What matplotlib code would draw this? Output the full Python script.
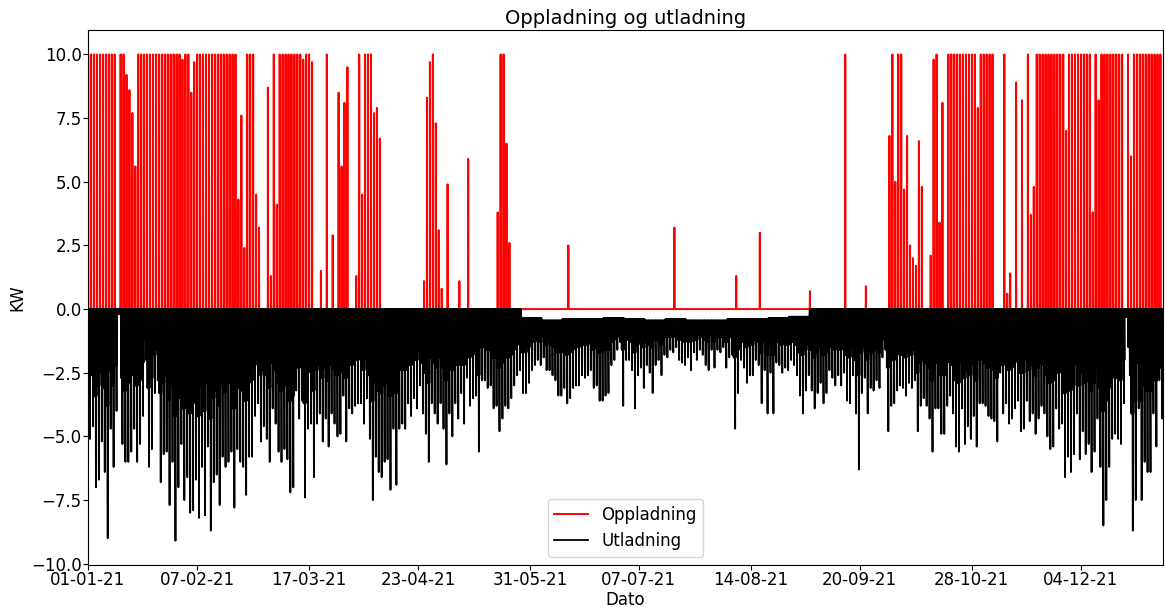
import numpy as np
import matplotlib
matplotlib.use("Agg")
import matplotlib.pyplot as plt
import matplotlib.dates as mdates

# ------------------------- #
# Data: batteri 2021, én verdi per dag
# ------------------------- #
# Største lading per dag (kW), én rad per måned
lading = (
    [10, 10, 10, 10, 10, 10, 10, 10, 10, 10, 0, 10, 10, 9.2, 8.6, 7.7, 5.6, 10, 10, 10,
     10, 10, 10, 10, 10, 10, 10, 10, 10, 10, 10]                                         # jan
    + [10, 9.8, 10, 10, 8.5, 9.7, 10, 10, 10, 10, 10, 10, 10, 10, 10, 10, 10, 10, 10, 10,
       4.3, 7.6, 2.4, 10, 10, 10, 4.5, 3.2]                                              # feb
    + [0, 0, 8.7, 1.3, 10, 4.1, 10, 10, 10, 10, 10, 10, 10, 10, 9.8, 10, 10, 9.7, 0, 0,
       1.5, 0, 10, 0, 2.9, 0, 8.5, 5.6, 8.1, 9.5, 0]                                     # mar
    + [0, 1.3, 10, 4.5, 10, 10, 10, 7.7, 7.9, 6.7, 0, 0, 0, 0, 0, 0, 0, 0, 0, 0,
       0, 0, 0, 0, 1.1, 8.3, 9.7, 10, 7.3, 3.1]                                          # apr
    + [0.8, 0, 4.9, 0, 0, 0, 1.1, 0, 0, 5.9, 0, 0, 0, 0, 0, 0, 0, 0, 0, 3.8,
       10, 10, 6.5, 2.6, 0, 0, 0, 0, 0, 0, 0]                                            # mai
    + [0, 0, 0, 0, 0, 0, 0, 0, 0, 0, 0, 0, 2.5, 0, 0, 0, 0, 0, 0, 0,
       0, 0, 0, 0, 0, 0, 0, 0, 0, 0]                                                     # jun
    + [0, 0, 0, 0, 0, 0, 0, 0, 0, 0, 0, 0, 0, 0, 0, 0, 0, 0, 3.2, 0,
       0, 0, 0, 0, 0, 0, 0, 0, 0, 0, 0]                                                  # jul
    + [0, 0, 0, 0, 0, 0, 0, 0, 1.3, 0, 0, 0, 0, 0, 0, 0, 3.0, 0, 0, 0,
       0, 0, 0, 0, 0, 0, 0, 0, 0, 0, 0]                                                  # aug
    + [0, 0, 0.7, 0, 0, 0, 0, 0, 0, 0, 0, 0, 0, 0, 10, 0, 0, 0, 0, 0,
       0, 0.9, 0, 0, 0, 0, 0, 0, 0, 6.8]                                                 # sep
    + [10, 5.0, 10, 10, 4.7, 6.8, 2.5, 2.0, 1.7, 6.6, 4.8, 0, 0, 2.1, 9.8, 10, 3.4, 8.1, 0, 10,
       10, 10, 10, 10, 10, 10, 10, 10, 10, 7.9, 10]                                      # okt
    + [10, 10, 10, 10, 0, 0, 0, 10, 0.6, 1.4, 0, 8.9, 0, 8.2, 0, 10, 3.7, 4.8, 10, 10,
       10, 10, 10, 10, 10, 10, 10, 10, 7.0, 10]                                          # nov
    + [10, 10, 10, 10, 10, 10, 10, 3.8, 10, 8.2, 10, 10, 10, 10, 10, 10, 10, 10, 0, 10,
       6.0, 10, 10, 10, 10, 10, 10, 10, 10, 10, 10]                                      # des
)

# Største utlading per dag (kW, negativ)
utlading_min = (
    [-5.1, -4.6, -7.0, -6.7, -5.2, -6.4, -9.0, -4.7, -6.2, -4.0, -0.2, -5.3, -6.0, -6.0, -5.6,
     -4.7, -6.0, -5.3, -4.2, -2.0, -6.2, -5.5, -3.3, -2.8, -6.8, -5.7, -5.6, -7.7, -6.0, -9.1,
     -7.0]                                                                                # jan
    + [-5.3, -7.5, -6.6, -8.0, -7.9, -6.7, -8.2, -6.2, -8.1, -5.4, -8.7, -6.8, -6.5, -7.7,
       -5.8, -6.2, -6.0, -5.6, -7.8, -5.5, -6.0, -6.2, -7.3, -5.8, -5.8, -4.2, -3.7, -5.2]  # feb
    + [-4.6, -5.1, -6.0, -3.9, -4.5, -5.6, -6.0, -5.5, -5.9, -7.2, -7.0, -3.2, -4.3, -3.6,
       -7.4, -4.7, -4.5, -6.6, -4.5, -4.1, -5.2, -4.3, -5.4, -4.1, -4.5, -5.0, -4.9, -3.4,
       -5.2, -3.9, -4.1]                                                                  # mar
    + [-3.8, -3.7, -3.7, -4.5, -3.5, -5.1, -7.5, -5.8, -6.4, -6.6, -6.0, -5.9, -7.1, -4.7,
       -6.9, -4.7, -4.5, -4.7, -3.7, -4.2, -3.5, -3.9, -3.0, -4.1, -4.9, -6.0, -3.7, -4.1,
       -4.5, -3.7]                                                                        # apr
    + [-4.7, -6.1, -4.1, -5.0, -3.7, -4.3, -3.3, -4.5, -2.7, -3.8, -3.5, -3.4, -5.6, -2.8,
       -2.8, -3.1, -3.0, -3.9, -3.8, -4.8, -4.3, -3.8, -3.9, -3.5, -3.0, -2.6, -2.4, -3.3,
       -3.3, -2.9, -2.4]                                                                  # mai
    + [-2.2, -2.0, -2.2, -1.9, -2.4, -2.4, -2.6, -2.8, -3.4, -3.4, -3.1, -3.7, -3.5, -3.1,
       -3.0, -3.0, -2.6, -2.7, -2.6, -2.4, -3.1, -3.0, -3.6, -3.6, -3.4, -3.3, -2.2, -2.0,
       -1.6, -1.3]                                                                        # jun
    + [-3.8, -2.0, -2.0, -2.4, -3.9, -2.6, -2.3, -3.1, -2.2, -2.5, -3.3, -2.2, -2.0, -2.6,
       -1.8, -1.9, -1.6, -1.7, -1.5, -2.0, -2.1, -2.2, -1.9, -2.4, -1.7, -2.0, -1.6, -1.8,
       -2.2, -2.4, -1.6]                                                                  # jul
    + [-2.3, -1.6, -1.7, -1.5, -2.3, -1.9, -1.8, -4.7, -3.3, -2.0, -2.3, -2.9, -2.6, -2.6,
       -2.0, -2.2, -3.7, -2.4, -4.1, -2.5, -4.1, -2.1, -2.2, -2.5, -2.3, -2.4, -2.0, -2.2,
       -2.6, -3.4, -4.1]                                                                  # aug
    + [-3.2, -2.6, -3.2, -3.9, -3.3, -2.9, -3.7, -3.3, -2.4, -2.7, -3.0, -2.6, -3.0, -2.5,
       -3.6, -3.7, -2.6, -4.1, -6.3, -3.3, -2.7, -4.1, -3.1, -3.2, -2.8, -3.1, -1.9, -1.6,
       -4.8, -3.8]                                                                        # sep
    + [-3.7, -3.2, -3.0, -3.1, -3.4, -2.9, -3.1, -2.8, -4.8, -3.8, -3.5, -3.8, -4.3, -5.6,
       -3.9, -3.9, -4.9, -4.9, -3.8, -3.4, -4.1, -5.4, -5.6, -3.9, -5.3, -4.6, -5.1, -4.2,
       -5.4, -3.7, -3.7]                                                                  # okt
    + [-3.8, -4.2, -4.3, -4.4, -5.2, -2.5, -4.1, -3.7, -4.5, -4.3, -3.9, -3.6, -4.8, -4.7,
       -3.6, -4.4, -4.1, -4.9, -4.3, -3.8, -4.1, -5.0, -5.5, -5.4, -3.9, -4.7, -4.5, -6.6,
       -5.8, -6.4]                                                                        # nov
    + [-5.7, -4.1, -5.9, -4.8, -5.7, -5.3, -6.4, -5.6, -4.3, -6.2, -8.5, -7.5, -6.2, -5.1,
       -4.9, -5.1, -5.3, -3.7, -0.3, -2.6, -8.7, -7.5, -3.9, -7.5, -6.0, -6.4, -6.4, -4.1,
       -5.4, -2.8, -4.3]                                                                  # des
)

# Vanlig utlading resten av døgnet (kW, negativ)
utlading_dag = (
    [-2.2, -2.6, -3.4, -3.0, -2.5, -3.1, -3.8, -2.4, -3.0, -2.2, -0.2, -2.7, -3.2, -2.9, -2.6,
     -2.3, -3.0, -2.8, -2.1, -1.2, -3.1, -2.7, -1.8, -1.6, -3.3, -2.9, -2.6, -3.6, -3.0, -4.2,
     -3.5]                                                                                # jan
    + [-2.8, -3.9, -3.4, -4.1, -3.7, -3.3, -4.2, -3.1, -4.0, -2.9, -4.3, -3.5, -3.2, -3.8,
       -3.0, -3.3, -2.9, -2.8, -3.9, -2.7, -3.1, -3.2, -3.6, -2.9, -2.8, -2.2, -2.0, -2.6]  # feb
    + [-2.4, -2.6, -3.1, -2.1, -2.4, -2.9, -3.2, -2.8, -3.0, -3.6, -3.4, -1.8, -2.3, -2.0,
       -3.7, -2.5, -2.4, -3.2, -2.4, -2.2, -2.7, -2.3, -2.8, -2.2, -2.4, -2.6, -2.5, -1.9,
       -2.7, -2.1, -2.2]                                                                  # mar
    + [-2.0, -2.0, -1.9, -2.4, -1.9, -2.6, -3.6, -2.9, -3.2, -3.3, -3.0, -2.9, -3.4, -2.5,
       -3.3, -2.4, -2.3, -2.4, -1.9, -2.2, -1.8, -2.0, -1.6, -2.1, -2.5, -2.9, -1.9, -2.1,
       -2.3, -1.9]                                                                        # apr
    + [-2.3, -2.8, -2.1, -2.4, -1.9, -2.2, -1.7, -2.2, -1.5, -1.9, -1.8, -1.7, -2.6, -1.5,
       -1.5, -1.6, -1.6, -1.9, -1.9, -2.3, -2.1, -1.9, -1.9, -1.8, -1.6, -1.4, -1.3, -1.7,
       -1.7, -1.5, -1.3]                                                                  # mai
    + [-1.3, -1.2, -1.3, -1.1, -1.4, -1.3, -1.4, -1.5, -1.7, -1.7, -1.6, -1.8, -1.7, -1.6,
       -1.5, -1.5, -1.4, -1.4, -1.4, -1.3, -1.6, -1.5, -1.7, -1.7, -1.6, -1.6, -1.3, -1.2,
       -1.1, -1.0]                                                                        # jun
    + [-1.6, -1.2, -1.2, -1.3, -1.7, -1.4, -1.3, -1.5, -1.3, -1.4, -1.5, -1.2, -1.2, -1.4,
       -1.1, -1.1, -1.0, -1.1, -1.0, -1.2, -1.2, -1.3, -1.1, -1.3, -1.1, -1.2, -1.0, -1.1,
       -1.2, -1.3, -1.0]                                                                  # jul
    + [-1.3, -1.0, -1.1, -1.0, -1.3, -1.1, -1.1, -1.9, -1.6, -1.2, -1.3, -1.5, -1.4, -1.4,
       -1.2, -1.3, -1.7, -1.3, -1.8, -1.4, -1.8, -1.2, -1.3, -1.4, -1.3, -1.4, -1.2, -1.3,
       -1.4, -1.7, -1.8]                                                                  # aug
    + [-1.6, -1.4, -1.6, -1.9, -1.7, -1.5, -1.8, -1.7, -1.4, -1.5, -1.6, -1.4, -1.6, -1.4,
       -1.8, -1.9, -1.5, -2.0, -2.6, -1.7, -1.5, -2.0, -1.7, -1.7, -1.6, -1.7, -1.2, -1.1,
       -2.3, -2.0]                                                                        # sep
    + [-2.0, -1.8, -1.7, -1.8, -1.9, -1.7, -1.8, -1.6, -2.5, -2.1, -2.0, -2.1, -2.3, -2.8,
       -2.1, -2.1, -2.6, -2.6, -2.1, -1.9, -2.2, -2.8, -2.9, -2.1, -2.7, -2.4, -2.6, -2.2,
       -2.8, -2.0, -2.0]                                                                  # okt
    + [-2.1, -2.3, -2.3, -2.4, -2.7, -1.5, -2.2, -2.0, -2.4, -2.3, -2.1, -2.0, -2.5, -2.5,
       -2.0, -2.4, -2.2, -2.6, -2.3, -2.1, -2.2, -2.6, -2.9, -2.8, -2.1, -2.5, -2.4, -3.3,
       -3.0, -3.2]                                                                        # nov
    + [-3.0, -2.2, -3.0, -2.5, -2.9, -2.8, -3.2, -2.9, -2.3, -3.1, -4.0, -3.6, -3.1, -2.7,
       -2.6, -2.7, -2.8, -2.0, -0.3, -1.5, -4.1, -3.6, -2.1, -3.6, -3.0, -3.2, -3.2, -2.2,
       -2.8, -1.6, -2.3]                                                                  # des
)

# Ukentlig grunnivå for utlading (kW) - 0 når batteriet står stille om natten
utlading_grunn = [
    0, 0, 0, 0, 0, 0, 0, 0, 0, 0, 0, 0, 0, 0, 0, 0, 0, 0, 0, 0, 0,
    -0.35, -0.45, -0.4, -0.4, -0.35, -0.4, -0.45, -0.4, -0.45, -0.45, -0.4, -0.4, -0.35, -0.3,
    0, 0, 0, 0, 0, 0, 0, 0, 0, 0, 0, 0, 0, 0, 0, 0, 0, 0,
]

# Datoer på x-aksen
dato_ticks = ["2021-01-01", "2021-02-07", "2021-03-17", "2021-04-23", "2021-05-31",
              "2021-07-07", "2021-08-14", "2021-09-20", "2021-10-28", "2021-12-04"]

# ------------------------- #
# Døgnprofil: lading om natten, utlading resten av døgnet
# ------------------------- #
n_dager = len(lading)
dag = np.datetime64("2021-01-01T00") + np.arange(n_dager).astype("timedelta64[D]")

timer_lad = np.array([1, 2, 3], dtype="timedelta64[h]")
t_lad = (dag[:, None] + timer_lad[None, :]).ravel()
y_lad = np.column_stack([np.zeros(n_dager), lading, np.zeros(n_dager)]).ravel()

uke = np.arange(n_dager) // 7
dyp = np.array(utlading_min)
vanlig = np.array(utlading_dag)
grunn = np.maximum(np.array(utlading_grunn)[uke], vanlig)
nivaa = {"g": grunn, "m": vanlig, "d": dyp}

# (time, nivå) gjennom døgnet - én topp på kvelden
profil = [(0, "g"), (4, "g"), (5, "m"), (6, "g"), (9, "m"), (10, "g"), (13, "m"),
          (14, "g"), (17, "d"), (18, "g"), (21, "m"), (22, "g")]
timer_utl = np.array([h for h, _ in profil], dtype="timedelta64[h]")
t_utl = (dag[:, None] + timer_utl[None, :]).ravel()
y_utl = np.column_stack([nivaa[k] for _, k in profil]).ravel()

# ------------------------- #
# Plot
# ------------------------- #
fig = plt.figure(figsize=(11.65, 6.07), dpi=100)
ax = fig.add_axes([0.0755, 0.0692, 0.9228, 0.8814])

ax.plot(t_lad, y_lad, color="red", linewidth=1.4, label="Oppladning")
ax.plot(t_utl, y_utl, color="black", linewidth=1.3, label="Utladning")

ax.set_title("Oppladning og utladning", fontsize=14, pad=4)
ax.set_xlabel("Dato", fontsize=12, labelpad=1)
ax.set_ylabel("KW", fontsize=12, labelpad=3)

ax.set_xlim(np.datetime64("2021-01-01T00"), np.datetime64("2021-12-31T23"))
ax.set_ylim(-10.05, 10.96)
ax.set_xticks(np.array(dato_ticks, dtype="datetime64[D]"))
ax.xaxis.set_major_formatter(mdates.DateFormatter("%d-%m-%y"))
ax.tick_params(labelsize=12, pad=1)

ax.legend(loc="lower center", fontsize=12)

fig.savefig("out.png", dpi=100)
